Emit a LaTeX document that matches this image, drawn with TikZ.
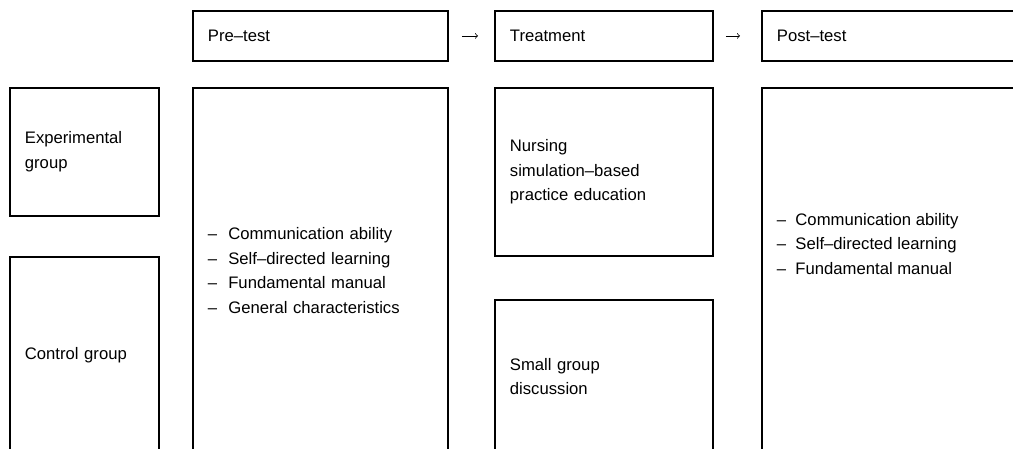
\documentclass[tikz,border=0pt]{standalone}
\usepackage{fontspec}
\setmainfont{Liberation Sans}
\usepackage{tikz}
\tikzstyle{box} = [rectangle, draw, line width=1.4pt, anchor=north west, inner xsep=11.25pt, inner ysep=0pt, align=left, font=\fontsize{12.5}{18.5}\selectfont]
\tikzstyle{invis} = [draw=none]
\tikzstyle{step to} = [->, >=to, line width=0.6pt]

\begin{document}
\begin{tikzpicture}[x=0.75pt,y=-0.75pt]
  \clip (0,0) rectangle (1013,449);
  % stage headers
  \node[box, text width=168.75pt, minimum height=37.5pt] (pre) at (192,10) {Pre--test};
  \node[box, text width=141pt, minimum height=37.5pt] (treat) at (494,10) {Treatment};
  \node[box, text width=179.25pt, minimum height=37.5pt] (post) at (761,10) {Post--test};

  % groups
  \node[box, text width=89.25pt, minimum height=96pt] (exp) at (9,87) {Experimental\\group};
  \node[box, text width=89.25pt, minimum height=147pt] (ctrl) at (9,256) {Control group};

  \node[box, text width=168.75pt, minimum height=273.75pt] (prelist) at (192,87)
    {-- \ Communication ability\\-- \ Self--directed learning\\-- \ Fundamental manual\\-- \ General characteristics};
  \node[box, text width=141pt, minimum height=126pt] (nursing) at (494,87)
    {Nursing\\simulation--based\\practice education};
  \node[box, text width=141pt, minimum height=114.75pt] (discuss) at (494,299)
    {Small group\\discussion};
  \node[box, text width=179.25pt, minimum height=273.75pt] (postbox) at (761,87) {};
  \node[box, invis, anchor=west] (postlist) at (761,244)
    {-- \ Communication ability\\-- \ Self--directed learning\\-- \ Fundamental manual};

  \path[step to] (pre) edge[shorten <=9.75pt, shorten >=12pt] (treat);
  \path[step to] (treat) edge[shorten <=9pt, shorten >=15.75pt] (post);
\end{tikzpicture}
\end{document}
